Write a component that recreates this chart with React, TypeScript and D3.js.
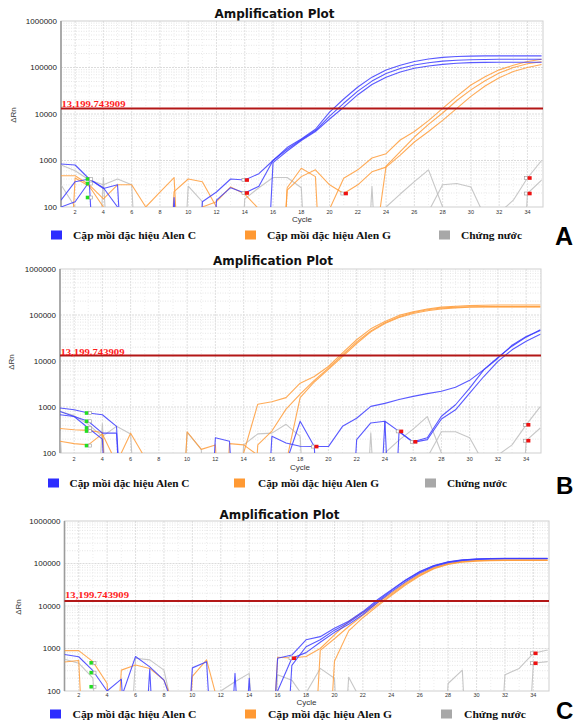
import * as d3 from "d3";

type Pt = [number, number];

const CYCLE_TICKS = d3.range(2, 35, 2);
const Y_TICKS = [100, 1000, 10000, 100000, 1000000];
const THRESHOLD = 13199.743909;
const THRESHOLD_TEXT = "13,199.743909";
const LEGEND_LABELS = ["Cặp mồi đặc hiệu Alen C", "Cặp mồi đặc hiệu Alen G", "Chứng nước"];

// ---- panel A ----
const blueA: Pt[][] = [
  [[1, 840], [2, 800], [3, 400], [4, 260], [5, 100], [6, 0.001], [10, 0.001], [11, 130], [12, 210], [13, 400], [14, 380], [15, 520], [16, 1000], [17, 1900], [18, 2900], [19, 4700], [20, 11000], [21, 21000], [22, 38000], [23, 62000], [24, 88000], [25, 112000], [26, 135000], [27, 152000], [28, 165000], [29, 172000], [30, 176000], [31, 178000], [32, 178000], [33, 178000], [34, 178000], [35, 178000]],
  [[1, 140], [2, 350], [3, 400], [4, 250], [5, 300], [6, 0.001], [11, 0.001], [12, 140], [13, 260], [14, 200], [15, 280], [16, 1000], [17, 1750], [18, 2800], [19, 4400], [20, 9000], [21, 17000], [22, 31000], [23, 51000], [24, 74000], [25, 95000], [26, 113000], [27, 127000], [28, 137000], [29, 143000], [30, 147000], [31, 149000], [32, 150000], [33, 150000], [34, 150000], [35, 150000]],
  [[1, 100], [2, 130], [3, 350], [4, 0.001], [8, 0.001], [9, 160], [10, 0.001], [15, 0.001], [16, 900], [17, 1600], [18, 2700], [19, 4200], [20, 7800], [21, 14000], [22, 26000], [23, 43000], [24, 62000], [25, 80000], [26, 96000], [27, 108000], [28, 117000], [29, 123000], [30, 127000], [31, 129000], [32, 130000], [33, 130000], [34, 130000], [35, 130000]],
];
const orangeA: Pt[][] = [
  [[1, 470], [2, 470], [3, 300], [4, 150], [5, 300], [6, 300], [7, 100], [8, 210], [9, 430], [10, 0.001]],
  [[1, 0.001], [2, 420], [3, 280], [4, 100], [5, 0.001]],
  [[8, 0.001], [9, 215], [10, 400], [11, 350], [12, 100], [13, 0.001]],
  [[10, 0.001], [11, 100], [12, 130], [13, 270], [14, 190], [15, 90], [16, 0.001]],
  [[16, 0.001], [17, 260], [18, 680], [19, 450], [20, 0.001]],
  [[18, 0.001], [19, 5], [20, 90], [21, 415], [22, 630], [23, 1130], [24, 1400], [25, 2760], [26, 4200], [27, 7200], [28, 13200], [29, 24000], [30, 42000], [31, 63000], [32, 89000], [33, 112000], [34, 135000], [35, 150000]],
  [[22, 0.001], [23, 5], [24, 760], [25, 1550], [26, 3200], [27, 6000], [28, 10500], [29, 19500], [30, 33000], [31, 52000], [32, 76000], [33, 100000], [34, 120000], [35, 133000]],
  [[16, 0.001], [17, 230], [18, 450], [19, 630], [20, 300], [21, 195], [22, 300], [23, 570], [24, 720], [25, 1300], [26, 2500], [27, 4200], [28, 7300], [29, 13200], [30, 24000], [31, 40000], [32, 60000], [33, 82000], [34, 100000], [35, 116000]],
];
const grayA: Pt[][] = [
  [[1, 800], [2, 600], [3, 380], [4, 300], [5, 400], [6, 300], [7, 0.001]],
  [[1, 300], [2, 100], [3, 0.001]],
  [[3, 0.001], [4, 430], [5, 0.001]],
  [[9, 0.001], [10, 280], [11, 130], [12, 0.001]],
  [[13, 0.001], [14, 150], [15, 260], [16, 430], [17, 430], [18, 260], [19, 0.001]],
  [[22, 0.001], [23, 275], [24, 0.001]],
  [[23, 0.001], [24, 100], [25, 190], [26, 350], [27, 630], [28, 100], [29, 0.001]],
  [[26, 0.01], [27, 80], [28, 300], [29, 320], [30, 270], [31, 60], [32, 0.01]],
  [[31, 0.01], [32, 75], [33, 140], [34, 420], [35, 1000]],
  [[33, 0.001], [34, 195], [35, 380]],
];
const redA: Pt[] = [[14, 380], [14, 200], [21, 195], [34, 420], [34, 195]];
const greenA: Pt[] = [[3, 400], [3, 320], [3, 160]];

// ---- panel B ----
const blueB: Pt[][] = [
  [[1, 950], [2, 870], [3, 740], [4, 680], [5, 380], [6, 0.001]],
  [[1, 800], [2, 620], [3, 490], [4, 270], [5, 270], [6, 0.001]],
  [[1, 680], [2, 620], [3, 350], [4, 200], [5, 0.0001]],
  [[11, 0.001], [12, 215], [13, 180], [14, 0.001]],
  [[15, 0.001], [16, 230], [17, 165], [18, 140], [19, 138], [20, 0.001]],
  [[21, 0.001], [22, 195], [23, 450], [24, 490], [25, 0.0001]],
  [[16, 0.001], [17, 60], [18, 490], [19, 138], [20, 138], [21, 380], [22, 570], [23, 1030], [24, 1200], [25, 1450], [26, 1700], [27, 1950], [28, 2200], [29, 2700], [30, 3800], [31, 6500], [32, 12000], [33, 21000], [34, 33000], [35, 48000]],
  [[23, 0.001], [24, 490], [25, 295], [26, 175], [27, 215], [28, 630], [29, 1120], [30, 2570], [31, 6400], [32, 11500], [33, 22000], [34, 34000], [35, 46000]],
  [[24, 0.0001], [25, 290], [26, 170], [27, 195], [28, 550], [29, 870], [30, 2000], [31, 4600], [32, 9800], [33, 17500], [34, 27000], [35, 38000]],
];
const orangeB: Pt[][] = [
  [[1, 340], [2, 320], [3, 310], [4, 280], [5, 0.001]],
  [[1, 180], [2, 160], [3, 150], [4, 260], [5, 60], [6, 270], [7, 80], [8, 0.001]],
  [[9, 0.001], [10, 290], [11, 120], [12, 150], [13, 0.001]],
  [[12, 0.001], [13, 160], [14, 150], [15, 90], [16, 0.001]],
  [[13, 0.001], [14, 100], [15, 1150], [16, 1300], [17, 1600], [18, 3300], [19, 4600], [20, 7600], [21, 15000], [22, 29000], [23, 50000], [24, 72000], [25, 98000], [26, 118000], [27, 135000], [28, 148000], [29, 155000], [30, 160000], [31, 163000], [32, 165000], [33, 165000], [34, 165000], [35, 165000]],
  [[14, 0.001], [15, 150], [16, 300], [17, 900], [18, 1900], [19, 3800], [20, 7000], [21, 13500], [22, 26000], [23, 45000], [24, 68000], [25, 92000], [26, 113000], [27, 130000], [28, 142000], [29, 148000], [30, 151000], [31, 152000], [32, 152000], [33, 152000], [34, 152000], [35, 152000]],
  [[16, 0.001], [17, 60], [18, 1600], [19, 3500], [20, 6600], [21, 12500], [22, 24000], [23, 43000], [24, 65000], [25, 88000], [26, 108000], [27, 124000], [28, 136000], [29, 143000], [30, 147000], [31, 149000], [32, 150000], [33, 150000], [34, 150000], [35, 150000]],
];
const grayB: Pt[][] = [
  [[1, 800], [2, 650], [3, 420], [4, 230], [5, 380], [6, 260], [7, 0.001]],
  [[1, 300], [2, 0.001]],
  [[3, 0.001], [4, 430], [5, 0.001]],
  [[9, 0.001], [10, 280], [11, 120], [12, 0.001]],
  [[13, 0.001], [14, 150], [15, 260], [16, 270], [17, 420], [18, 230], [19, 0.001]],
  [[22, 0.001], [23, 275], [24, 0.001]],
  [[23, 0.001], [24, 100], [25, 190], [26, 330], [27, 620], [28, 100], [29, 0.001]],
  [[26, 0.01], [27, 80], [28, 290], [29, 290], [30, 215], [31, 60], [32, 0.01]],
  [[31, 0.01], [32, 90], [33, 150], [34, 410], [35, 1020]],
  [[33, 0.001], [34, 185], [35, 350]],
];
const redB: Pt[] = [[19, 138], [25, 295], [26, 175], [34, 410], [34, 185]];
const greenB: Pt[] = [[3, 740], [3, 490], [3, 350], [3, 300], [3, 145]];

// ---- panel C ----
const blueC: Pt[][] = [
  [[1, 720], [2, 640], [3, 300], [4, 100], [5, 190], [6, 0.001]],
  [[5, 70], [6, 650], [7, 370], [8, 180], [9, 20]],
  [[6, 0.001], [7, 330], [8, 0.0001]],
  [[9, 0.001], [10, 350], [11, 490], [12, 0.001]],
  [[12, 0.001], [13, 260], [14, 0.001]],
  [[13, 0.001], [14, 200], [15, 0.001]],
  [[15, 0.001], [16, 590], [17, 700], [18, 1600], [19, 1900], [20, 3000], [21, 4400], [22, 7400], [23, 13800], [24, 24000], [25, 41000], [26, 65000], [27, 90000], [28, 110000], [29, 122000], [30, 128000], [31, 131000], [32, 132000], [33, 132000], [34, 132000], [35, 132000]],
  [[16, 0.001], [17, 400], [18, 1100], [19, 1600], [20, 2700], [21, 4100], [22, 7000], [23, 12800], [24, 23000], [25, 40000], [26, 63000], [27, 88000], [28, 108000], [29, 120000], [30, 127000], [31, 130000], [32, 131000], [33, 131000], [34, 131000], [35, 131000]],
  [[15, 0.001], [16, 100], [17, 590], [18, 800], [19, 1400], [20, 2400], [21, 3700], [22, 6300], [23, 11800], [24, 21500], [25, 37000], [26, 60000], [27, 85000], [28, 105000], [29, 118000], [30, 125000], [31, 128000], [32, 129000], [33, 129000], [34, 129000], [35, 129000]],
];
const orangeC: Pt[][] = [
  [[1, 890], [2, 890], [3, 490], [4, 150], [5, 0.001]],
  [[1, 480], [2, 520], [3, 0.0001]],
  [[4, 0.001], [5, 310], [6, 410], [7, 340], [8, 180], [9, 30]],
  [[9, 0.001], [10, 220], [11, 540], [12, 30]],
  [[15, 0.001], [16, 620], [17, 600], [18, 650], [19, 1000], [20, 2100], [21, 4300], [22, 7000], [23, 11500], [24, 20000], [25, 35000], [26, 56000], [27, 80000], [28, 100000], [29, 112000], [30, 118000], [31, 120000], [32, 121000], [33, 121000], [34, 121000], [35, 121000]],
  [[18, 0.001], [19, 900], [20, 1700], [21, 3300], [22, 6000], [23, 10500], [24, 18500], [25, 33000], [26, 53000], [27, 77000], [28, 97000], [29, 110000], [30, 116000], [31, 119000], [32, 120000], [33, 120000], [34, 120000], [35, 120000]],
  [[19, 0.001], [20, 500], [21, 2600], [22, 5300], [23, 9800], [24, 17500], [25, 31000], [26, 51000], [27, 75000], [28, 95000], [29, 108000], [30, 114000], [31, 117000], [32, 118000], [33, 118000], [34, 118000], [35, 118000]],
];
const grayC: Pt[][] = [
  [[1, 560], [2, 450], [3, 200], [4, 0.001]],
  [[5, 0.001], [6, 590], [7, 540], [8, 310], [9, 10]],
  [[11, 0.001], [12, 100], [13, 165], [14, 260], [15, 0.001]],
  [[15, 0.001], [16, 240], [17, 180], [18, 60]],
  [[18, 90], [19, 340], [20, 200], [21, 0.0001]],
  [[20, 0.001], [21, 210], [22, 50]],
  [[27, 0.001], [28, 150], [29, 310], [30, 0.0001]],
  [[31, 0.001], [32, 240], [33, 340], [34, 770], [35, 920]],
  [[33, 0.001], [34, 450], [35, 490]],
];
const redC: Pt[] = [[17, 590], [34, 770], [34, 450]];
const greenC: Pt[] = [[3, 460], [3, 270], [3, 126]];

const SANS = "'Liberation Sans', Arial, sans-serif";
const SERIF = "'Liberation Serif', 'Times New Roman', serif";

const LINE_COLORS = { blue: "#3c3cff", orange: "#ff9c3a", gray: "#bdbdbd" };
const LEGEND_COLORS = ["#2d2dff", "#ff9933", "#a8a8a8"];

const panels = [
  {
    key: "A", top: 21, bottom: 207, left: 61, right: 543, xMax: 35.1,
    titleX: 274.5, titleY: 17.5, tickY: 214, cycleX: 302, cycleY: 222, rnX: 16, rnY: 115,
    thrY: 106.5, legendY: 235,
    legend: [{ sq: 51, tx: 73, w: 123 }, { sq: 245, tx: 267, w: 124 }, { sq: 439, tx: 461, w: 61 }],
    letter: "A", letterX: 555, letterY: 245, letterSize: 25,
    blue: blueA, orange: orangeA, gray: grayA, red: redA, green: greenA,
  },
  {
    key: "B", top: 269, bottom: 453, left: 60, right: 541, xMax: 35.05,
    titleX: 273, titleY: 265, tickY: 461, cycleX: 300, cycleY: 469.5, rnX: 14, rnY: 362,
    thrY: 354.5, legendY: 483,
    legend: [{ sq: 48, tx: 69.5, w: 120 }, { sq: 234, tx: 258, w: 121 }, { sq: 425, tx: 447, w: 60 }],
    letter: "B", letterX: 556, letterY: 494, letterSize: 24,
    blue: blueB, orange: orangeB, gray: grayB, red: redB, green: greenB,
  },
  {
    key: "C", top: 521, bottom: 691, left: 64.5, right: 549, xMax: 35.1,
    titleX: 279.5, titleY: 518.5, tickY: 697, cycleX: 306.5, cycleY: 705, rnX: 21, rnY: 607,
    thrY: 597.5, legendY: 714,
    legend: [{ sq: 50, tx: 72.5, w: 124 }, { sq: 245, tx: 268, w: 124 }, { sq: 441, tx: 464, w: 62 }],
    letter: "C", letterX: 556, letterY: 719, letterSize: 24,
    blue: blueC, orange: orangeC, gray: grayC, red: redC, green: greenC,
  },
];

type PanelCfg = (typeof panels)[number];

function Panel({ p }: { p: PanelCfg }) {
  const x = d3.scaleLinear().domain([1, p.xMax]).range([p.left, p.right]);
  const y = d3.scaleLog().domain([100, 1000000]).range([p.bottom, p.top]);
  const line = d3
    .line<Pt>()
    .x((d) => x(d[0]))
    .y((d) => y(d[1]));
  const clipId = `plot-clip-${p.key}`;

  const minorY: number[] = [];
  for (const dec of [100, 1000, 10000, 100000]) {
    for (let k = 2; k < 10; k++) minorY.push(dec * k);
  }
  const oddCycles = d3.range(3, 35, 2);

  const series: [Pt[][], string][] = [
    [p.gray, LINE_COLORS.gray],
    [p.orange, LINE_COLORS.orange],
    [p.blue, LINE_COLORS.blue],
  ];

  return (
    <g>
      <text
        x={p.titleX}
        y={p.titleY}
        textAnchor="middle"
        fontFamily="'DejaVu Sans', Verdana, sans-serif"
        fontWeight="bold"
        fontSize={11.5}
        textLength={120}
        lengthAdjust="spacingAndGlyphs"
        fill="#111"
      >
        Amplification Plot
      </text>

      <defs>
        <clipPath id={clipId}>
          <rect x={p.left} y={p.top} width={p.right - p.left} height={p.bottom - p.top} />
        </clipPath>
      </defs>

      <rect x={p.left} y={p.top} width={p.right - p.left} height={p.bottom - p.top} fill="#fff" />

      {/* grid */}
      <g fill="none">
        {minorY.map((v) => (
          <line key={`my${v}`} x1={p.left} x2={p.right} y1={y(v)} y2={y(v)} stroke="#e0e0e0" strokeWidth={0.8} strokeDasharray="1,1.5" />
        ))}
        {Y_TICKS.slice(1, -1).map((v) => (
          <line key={`My${v}`} x1={p.left} x2={p.right} y1={y(v)} y2={y(v)} stroke="#d2d2d2" strokeWidth={0.8} strokeDasharray="2,1" />
        ))}
        {oddCycles.map((c) => (
          <line key={`mx${c}`} x1={x(c)} x2={x(c)} y1={p.top} y2={p.bottom} stroke="#eaeaea" strokeWidth={0.8} strokeDasharray="1,2" />
        ))}
        {CYCLE_TICKS.map((c) => (
          <line key={`Mx${c}`} x1={x(c)} x2={x(c)} y1={p.top} y2={p.bottom} stroke="#dcdcdc" strokeWidth={0.9} strokeDasharray="2,1" />
        ))}
      </g>

      <rect x={p.left} y={p.top} width={p.right - p.left} height={p.bottom - p.top} fill="none" stroke="#cfcfcf" strokeWidth={1} />
      <line x1={p.left} x2={p.left} y1={p.top} y2={p.bottom} stroke="#9c9c9c" strokeWidth={1.6} />

      {/* curves */}
      <g clipPath={`url(#${clipId})`} fill="none">
        {series.map(([curves, color], si) =>
          curves.map((c, i) => (
            <path key={`${si}-${i}`} d={line(c) ?? ""} stroke={color} strokeWidth={1.1} strokeOpacity={0.85} strokeLinejoin="round" />
          ))
        )}
      </g>

      {/* threshold */}
      <line x1={p.left} x2={p.right} y1={y(THRESHOLD)} y2={y(THRESHOLD)} stroke="#b31717" strokeWidth={2} />
      <text
        x={p.left + 0.5}
        y={p.thrY}
        fontFamily={SERIF}
        fontWeight="bold"
        fontSize={9}
        fill="#ff1c1c"
        textLength={64}
        lengthAdjust="spacingAndGlyphs"
      >
        {THRESHOLD_TEXT}
      </text>

      {/* baseline markers */}
      {p.green.map((d, i) => (
        <g key={`g${i}`}>
          <rect x={x(d[0]) - 3.5} y={y(d[1]) - 1.8} width={3.5} height={3.6} fill="#22dd22" />
          <rect x={x(d[0]) + 0.3} y={y(d[1]) - 1.5} width={2.8} height={3} fill="#fff" stroke="#9a9a9a" strokeWidth={0.6} />
        </g>
      ))}
      {p.red.map((d, i) => (
        <g key={`r${i}`}>
          <rect x={x(d[0]) - 2.8} y={y(d[1]) - 1.5} width={2.8} height={3} fill="#fff" stroke="#9a9a9a" strokeWidth={0.6} />
          <rect x={x(d[0]) + 0.2} y={y(d[1]) - 1.8} width={4} height={3.6} fill="#ee1111" />
        </g>
      ))}

      {/* axes labels */}
      {Y_TICKS.map((v) => (
        <text key={`yt${v}`} x={p.left - 4} y={y(v) + 2.8} textAnchor="end" fontFamily={SANS} fontSize={8} fill="#222">
          {v}
        </text>
      ))}
      {CYCLE_TICKS.map((c) => (
        <text key={`xt${c}`} x={x(c)} y={p.tickY} textAnchor="middle" fontFamily={SANS} fontSize={5.5} fill="#333">
          {c}
        </text>
      ))}
      <text x={p.cycleX} y={p.cycleY} textAnchor="middle" fontFamily={SANS} fontSize={8} fill="#333">
        Cycle
      </text>
      <text
        transform={`translate(${p.rnX},${p.rnY}) rotate(-90)`}
        textAnchor="middle"
        fontFamily={SANS}
        fontSize={8}
        fill="#333"
      >
        ΔRn
      </text>

      {/* legend */}
      {p.legend.map((l, i) => (
        <g key={`lg${i}`}>
          <rect x={l.sq} y={p.legendY - 4.5} width={11} height={9} fill={LEGEND_COLORS[i]} />
          <text
            x={l.tx}
            y={p.legendY + 4}
            fontFamily={SERIF}
            fontWeight="bold"
            fontSize={11}
            fill="#111"
            textLength={l.w}
            lengthAdjust="spacingAndGlyphs"
          >
            {LEGEND_LABELS[i]}
          </text>
        </g>
      ))}

      <text x={p.letterX} y={p.letterY} fontFamily={SANS} fontWeight="bold" fontSize={p.letterSize} fill="#000">
        {p.letter}
      </text>
    </g>
  );
}

export default function App() {
  return (
    <svg
      width={574}
      height={725}
      viewBox="0 0 574 725"
      style={{ position: "absolute", left: 0, top: 0, background: "#fff" }}
    >
      <rect width={574} height={725} fill="#fff" />
      {panels.map((p) => (
        <Panel key={p.key} p={p} />
      ))}
    </svg>
  );
}
